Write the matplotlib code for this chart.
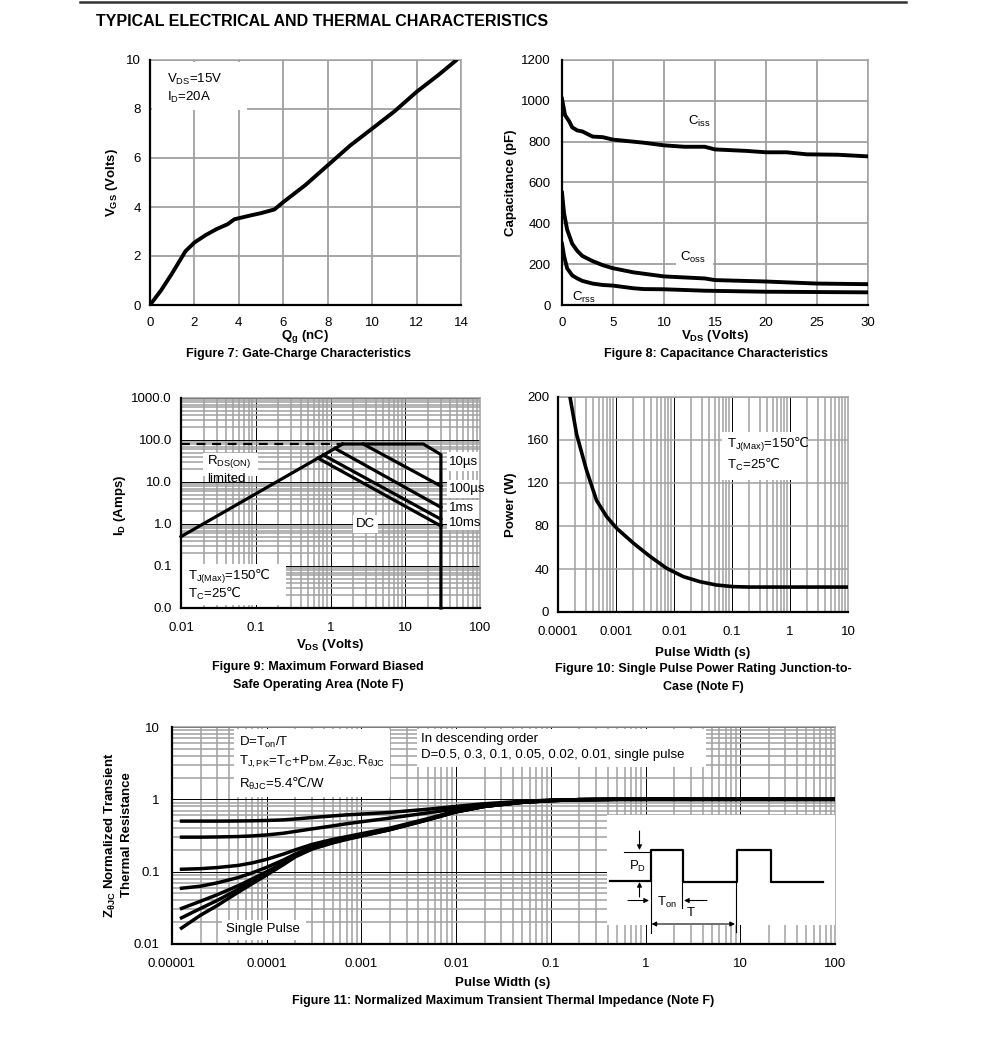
import numpy as np
import matplotlib
matplotlib.use('Agg')
import matplotlib.pyplot as plt
from matplotlib.ticker import FixedLocator, FixedFormatter, NullFormatter, LogLocator
from matplotlib.patches import Rectangle
from matplotlib.lines import Line2D

# ---------------- data ----------------
title_text = 'TYPICAL ELECTRICAL AND THERMAL CHARACTERISTICS'

# Figure 7: gate charge
qg_nc = [0, 0.5, 1.0, 1.6, 2.0, 2.5, 3.0, 3.5, 3.8, 4.5, 5.0, 5.6, 6.0, 7.0, 8.0, 9.0, 10.0, 11.0, 12.0, 13.0, 13.8]
vgs_v = [0, 0.6, 1.3, 2.2, 2.55, 2.85, 3.1, 3.3, 3.5, 3.65, 3.75, 3.9, 4.2, 4.9, 5.7, 6.5, 7.2, 7.9, 8.7, 9.4, 10.0]
fig7_xticks = [0, 2, 4, 6, 8, 10, 12, 14]
fig7_yticks = [0, 2, 4, 6, 8, 10]

# Figure 8: capacitance
ciss_v = [0, 0.3, 0.7, 1.0, 1.5, 2.0, 3.0, 4.0, 5.0, 7.0, 8.0, 10.0, 12.0, 14.0, 15.0, 18.0, 20.0, 22.0, 24.0, 27.0, 30.0]
ciss_pf = [1010, 930, 900, 870, 855, 850, 825, 822, 810, 800, 795, 782, 775, 775, 762, 755, 748, 748, 738, 736, 728]
coss_v = [0, 0.2, 0.5, 1.0, 1.5, 2.0, 3.0, 4.0, 5.0, 7.0, 10.0, 12.0, 14.0, 15.0, 20.0, 25.0, 30.0]
coss_pf = [550, 450, 370, 300, 265, 240, 215, 195, 180, 160, 140, 135, 130, 122, 115, 105, 102]
crss_v = [0, 0.2, 0.5, 1.0, 1.5, 2.0, 3.0, 4.0, 5.0, 7.0, 8.0, 10.0, 14.0, 20.0, 30.0]
crss_pf = [300, 240, 180, 145, 130, 118, 105, 98, 95, 82, 78, 77, 70, 65, 62]
fig8_xticks = [0, 5, 10, 15, 20, 25, 30]
fig8_yticks = [0, 200, 400, 600, 800, 1000, 1200]

# Figure 9: safe operating area
rds_v = [0.01, 1.45]
rds_i = [0.5, 80]
lim_v = [0.01, 1.45]
lim_i = [80, 80]
us10_v = [1.45, 17.5, 30, 30]
us10_i = [80, 80, 45, 0.01]
us100_v = [2.75, 30]
us100_i = [80, 8.0]
ms1_v = [1.15, 30]
ms1_i = [63, 2.5]
ms10_v = [0.8, 30]
ms10_i = [44, 1.3]
dc_v = [0.68, 30]
dc_i = [37, 0.9]
fig9_xticks = [0.01, 0.1, 1, 10, 100]
fig9_xlabels = ['0.01', '0.1', '1', '10', '100']
fig9_yticks = [0.01, 0.1, 1, 10, 100, 1000]
fig9_ylabels = ['0.0', '0.1', '1.0', '10.0', '100.0', '1000.0']

# Figure 10: single pulse power
pulse_s = [1.61e-4, 2.1e-4, 3.1e-4, 4.6e-4, 6.9e-4, 1.03e-3, 2e-3, 3.9e-3, 7.5e-3, 0.0145, 0.028, 0.054, 0.105, 0.2, 1, 10]
power_w = [200, 165, 132, 104, 88.7, 77.8, 64, 51.5, 40.6, 32.9, 28.2, 25.1, 23.6, 23.2, 23.2, 23.2]
fig10_xticks = [1e-4, 1e-3, 1e-2, 0.1, 1, 10]
fig10_xlabels = ['0.0001', '0.001', '0.01', '0.1', '1', '10']
fig10_yticks = [0, 40, 80, 120, 160, 200]

# Figure 11: transient thermal impedance
zth_t = [1.26e-5, 2e-5, 3e-5, 5e-5, 7e-5, 1e-4, 1.5e-4, 2e-4, 3e-4, 5e-4, 7e-4, 1e-3,
         2e-3, 5e-3, 1e-2, 2e-2, 5e-2, 0.1, 0.2, 0.5, 1, 100]
z_d05 = [0.50, 0.50, 0.50, 0.502, 0.505, 0.51, 0.52, 0.535, 0.56, 0.59, 0.61, 0.625,
         0.66, 0.73, 0.80, 0.87, 0.94, 0.975, 0.99, 1.0, 1.0, 1.0]
z_d03 = [0.30, 0.30, 0.302, 0.306, 0.312, 0.322, 0.34, 0.36, 0.39, 0.43, 0.46, 0.49,
         0.55, 0.65, 0.74, 0.83, 0.925, 0.97, 0.99, 1.0, 1.0, 1.0]
z_d01 = [0.108, 0.110, 0.114, 0.122, 0.132, 0.148, 0.175, 0.20, 0.238, 0.28, 0.305, 0.335,
         0.40, 0.54, 0.69, 0.81, 0.92, 0.965, 0.99, 1.0, 1.0, 1.0]
z_d005 = [0.059, 0.063, 0.070, 0.083, 0.096, 0.115, 0.145, 0.175, 0.22, 0.265, 0.295, 0.325,
          0.39, 0.53, 0.68, 0.80, 0.91, 0.96, 0.99, 1.0, 1.0, 1.0]
z_d002 = [0.031, 0.039, 0.048, 0.064, 0.079, 0.10, 0.133, 0.167, 0.212, 0.257, 0.287, 0.317,
          0.385, 0.525, 0.675, 0.80, 0.91, 0.96, 0.99, 1.0, 1.0, 1.0]
z_d001 = [0.023, 0.031, 0.040, 0.057, 0.073, 0.095, 0.128, 0.163, 0.208, 0.253, 0.283, 0.313,
          0.382, 0.522, 0.672, 0.80, 0.91, 0.96, 0.99, 1.0, 1.0, 1.0]
z_single = [0.0166, 0.025, 0.034, 0.052, 0.068, 0.09, 0.125, 0.16, 0.205, 0.25, 0.28, 0.31,
            0.38, 0.52, 0.67, 0.80, 0.91, 0.96, 0.99, 1.0, 1.0, 1.0]
fig11_xticks = [1e-5, 1e-4, 1e-3, 1e-2, 0.1, 1, 10, 100]
fig11_xlabels = ['0.00001', '0.0001', '0.001', '0.01', '0.1', '1', '10', '100']
fig11_yticks = [0.01, 0.1, 1, 10]
fig11_ylabels = ['0.01', '0.1', '1', '10']

# ---------------- style ----------------
plt.rcParams['font.family'] = ['Liberation Sans', 'DejaVu Sans']
plt.rcParams['mathtext.fontset'] = 'custom'
plt.rcParams['mathtext.rm'] = 'Liberation Sans'
plt.rcParams['mathtext.it'] = 'Liberation Sans:italic'
plt.rcParams['mathtext.bf'] = 'Liberation Sans:bold'
plt.rcParams['mathtext.sf'] = 'DejaVu Sans'
plt.rcParams['mathtext.fallback'] = 'stixsans'
plt.rcParams['mathtext.default'] = 'rm'

GRID = '#a0a0a0'
TICK_FS = 9.5
LAB_FS = 9.5
CAP_FS = 9.0
DEG = r'$\mathsf{℃}$'

W, H = 991, 1052
fig = plt.figure(figsize=(W / 100, H / 100), dpi=100)


def fx(px):
    return px / W


def fy(py):
    return 1 - py / H


def ax_px(l, t, r, b):
    return fig.add_axes([l / W, 1 - b / H, (r - l) / W, (b - t) / H])


def style_axes(ax, xpad=9, ypad=6.5):
    ax.set_axisbelow(True)
    for s in ['left', 'bottom']:
        ax.spines[s].set_color('black')
        ax.spines[s].set_linewidth(1.6)
        ax.spines[s].set_zorder(4)
    for s in ['top', 'right']:
        ax.spines[s].set_color(GRID)
        ax.spines[s].set_linewidth(1.1)
    ax.tick_params(which='both', length=0, labelsize=TICK_FS, colors='black')
    ax.tick_params(axis='x', pad=xpad)
    ax.tick_params(axis='y', pad=ypad)


def white_box(ax, l, t, r, b):
    ax.add_patch(Rectangle((l / W, 1 - b / H), (r - l) / W, (b - t) / H, transform=fig.transFigure,
                           facecolor='white', edgecolor='none', zorder=1.5, clip_on=False))


def ptext(ax, px, py, s, **kw):
    ax.text(fx(px), fy(py), s, transform=fig.transFigure, fontsize=kw.pop('fontsize', 9.5),
            va=kw.pop('va', 'center'), ha=kw.pop('ha', 'left'), zorder=5, **kw)


def log_grid(ax, xaxis=True, yaxis=True):
    if xaxis:
        ax.xaxis.set_minor_locator(LogLocator(base=10, subs=np.arange(2, 10), numticks=30))
        ax.xaxis.set_minor_formatter(NullFormatter())
    if yaxis:
        ax.yaxis.set_minor_locator(LogLocator(base=10, subs=np.arange(2, 10), numticks=30))
        ax.yaxis.set_minor_formatter(NullFormatter())
    ax.grid(True, which='minor', color=GRID, lw=1.1)
    ax.grid(True, which='major', color='black', lw=0.7)


# top rule and title
fig.add_artist(Line2D([fx(80), fx(906)], [fy(1.5), fy(1.5)], color='#333333', lw=1.8))
fig.text(fx(96), fy(22), title_text, fontsize=11.5, fontweight='bold', va='center', ha='left')

# ---------------- Figure 7 ----------------
ax7 = ax_px(150, 60, 461, 305)
style_axes(ax7)
ax7.plot(qg_nc, vgs_v, color='black', lw=2.8, zorder=3, solid_capstyle='round')
ax7.set_xlim(0, 14)
ax7.set_ylim(0, 10)
ax7.set_xticks(fig7_xticks)
ax7.set_yticks(fig7_yticks)
ax7.grid(True, color=GRID, lw=1.3)
white_box(ax7, 152, 62, 247, 110)
ptext(ax7, 167, 79, r'V$_{\mathrm{DS}}$=15V')
ptext(ax7, 167, 97, r'I$_{\mathrm{D}}$=20A')
fig.text(fx(112), fy(183), r'V$_{\mathbf{GS}}$ (Volts)', rotation=90, fontsize=LAB_FS, fontweight='bold',
         ha='center', va='center')
fig.text(fx(305), fy(336), r'Q$_{\mathbf{g}}$ (nC)', fontsize=LAB_FS, fontweight='bold', ha='center', va='center')
fig.text(fx(298), fy(354), 'Figure 7: Gate-Charge Characteristics', fontsize=CAP_FS, fontweight='bold',
         ha='center', va='center')

# ---------------- Figure 8 ----------------
ax8 = ax_px(562, 60, 868, 305)
style_axes(ax8, ypad=8)
ax8.plot(ciss_v, ciss_pf, color='black', lw=2.8, zorder=3)
ax8.plot(coss_v, coss_pf, color='black', lw=2.8, zorder=3)
ax8.plot(crss_v, crss_pf, color='black', lw=2.8, zorder=3)
ax8.set_xlim(0, 30)
ax8.set_ylim(0, 1200)
ax8.set_xticks(fig8_xticks)
ax8.set_yticks(fig8_yticks)
ax8.grid(True, color=GRID, lw=1.3)
white_box(ax8, 685, 111, 713, 132)
white_box(ax8, 676, 249, 713, 266)
white_box(ax8, 569, 292, 603, 304)
ptext(ax8, 688, 121, r'C$_{\mathrm{iss}}$')
ptext(ax8, 680, 257, r'C$_{\mathrm{oss}}$')
ptext(ax8, 572, 297, r'C$_{\mathrm{rss}}$')
fig.text(fx(511), fy(183), 'Capacitance (pF)', rotation=90, fontsize=LAB_FS, fontweight='bold',
         ha='center', va='center')
fig.text(fx(715), fy(336), r'V$_{\mathbf{DS}}$ (Volts)', fontsize=LAB_FS, fontweight='bold', ha='center', va='center')
fig.text(fx(716), fy(354), 'Figure 8: Capacitance Characteristics', fontsize=CAP_FS, fontweight='bold',
         ha='center', va='center')

# ---------------- Figure 9 ----------------
ax9 = ax_px(181, 398, 480, 608)
style_axes(ax9, xpad=10, ypad=6.5)
ax9.set_xscale('log')
ax9.set_yscale('log')
ax9.set_xlim(0.01, 100)
ax9.set_ylim(0.01, 1000)
log_grid(ax9)
ax9.xaxis.set_major_locator(FixedLocator(fig9_xticks))
ax9.xaxis.set_major_formatter(FixedFormatter(fig9_xlabels))
ax9.yaxis.set_major_locator(FixedLocator(fig9_yticks))
ax9.yaxis.set_major_formatter(FixedFormatter(fig9_ylabels))
ax9.plot(lim_v, lim_i, color='black', lw=1.6, ls=(0, (4, 3)), zorder=3)
for xs, ys in [(rds_v, rds_i), (us10_v, us10_i), (us100_v, us100_i), (ms1_v, ms1_i),
               (ms10_v, ms10_i), (dc_v, dc_i)]:
    ax9.plot(xs, ys, color='black', lw=2.3, zorder=3, clip_on=False)
white_box(ax9, 203, 453, 258, 476)
white_box(ax9, 447, 452, 482, 471)
white_box(ax9, 447, 480, 486, 498)
white_box(ax9, 447, 500, 480, 516)
white_box(ax9, 447, 516, 484, 530)
white_box(ax9, 353, 515, 378, 533)
white_box(ax9, 182, 564, 286, 605)
ptext(ax9, 207, 462, r'R$_{\mathrm{DS(ON)}}$')
ptext(ax9, 207, 479, 'limited')
ptext(ax9, 449, 462, '10µs')
ptext(ax9, 449, 489, '100µs')
ptext(ax9, 449, 508, '1ms')
ptext(ax9, 449, 523, '10ms')
ptext(ax9, 356, 524, 'DC')
ptext(ax9, 188, 577, r'T$_{\mathrm{J(Max)}}$=150' + DEG)
ptext(ax9, 188, 594, r'T$_{\mathrm{C}}$=25' + DEG)
fig.text(fx(120), fy(505), r'I$_{\mathbf{D}}$ (Amps)', rotation=90, fontsize=LAB_FS, fontweight='bold',
         ha='center', va='center')
fig.text(fx(330), fy(645), r'V$_{\mathbf{DS}}$ (Volts)', fontsize=LAB_FS, fontweight='bold', ha='center', va='center')
fig.text(fx(318), fy(667), 'Figure 9: Maximum Forward Biased', fontsize=CAP_FS, fontweight='bold',
         ha='center', va='center')
fig.text(fx(318), fy(685), 'Safe Operating Area (Note F)', fontsize=CAP_FS, fontweight='bold',
         ha='center', va='center')

# ---------------- Figure 10 ----------------
ax10 = ax_px(558, 397, 848, 612)
style_axes(ax10, xpad=10, ypad=6.5)
ax10.set_xscale('log')
ax10.set_xlim(1e-4, 10)
ax10.set_ylim(0, 200)
log_grid(ax10, yaxis=False)
ax10.yaxis.grid(True, which='major', color=GRID, lw=1.1)
ax10.xaxis.set_major_locator(FixedLocator(fig10_xticks))
ax10.xaxis.set_major_formatter(FixedFormatter(fig10_xlabels))
ax10.set_yticks(fig10_yticks)
ax10.plot(pulse_s, power_w, color='black', lw=2.6, zorder=3)
white_box(ax10, 722, 432, 806, 480)
ptext(ax10, 727, 445, r'T$_{\mathrm{J(Max)}}$=150' + DEG)
ptext(ax10, 727, 465, r'T$_{\mathrm{C}}$=25' + DEG)
fig.text(fx(511), fy(505), 'Power (W)', rotation=90, fontsize=LAB_FS, fontweight='bold',
         ha='center', va='center')
fig.text(fx(703), fy(653), 'Pulse Width (s)', fontsize=LAB_FS, fontweight='bold', ha='center', va='center')
fig.text(fx(703), fy(669), 'Figure 10: Single Pulse Power Rating Junction-to-', fontsize=CAP_FS,
         fontweight='bold', ha='center', va='center')
fig.text(fx(703), fy(687), 'Case (Note F)', fontsize=CAP_FS, fontweight='bold', ha='center', va='center')

# ---------------- Figure 11 ----------------
ax11 = ax_px(172, 727, 835, 944)
style_axes(ax11, xpad=10, ypad=9)
ax11.set_xscale('log')
ax11.set_yscale('log')
ax11.set_xlim(1e-5, 100)
ax11.set_ylim(0.01, 10)
log_grid(ax11)
ax11.xaxis.set_major_locator(FixedLocator(fig11_xticks))
ax11.xaxis.set_major_formatter(FixedFormatter(fig11_xlabels))
ax11.yaxis.set_major_locator(FixedLocator(fig11_yticks))
ax11.yaxis.set_major_formatter(FixedFormatter(fig11_ylabels))
for zs in [z_d05, z_d03, z_d01, z_d005, z_d002, z_d001, z_single]:
    ax11.plot(zth_t, zs, color='black', lw=2.5, zorder=3)
white_box(ax11, 234, 729, 390, 797)
white_box(ax11, 417, 729, 706, 767)
white_box(ax11, 222, 920, 306, 940)
ptext(ax11, 239, 742, r'D=T$_{\mathrm{on}}$/T')
ptext(ax11, 239, 762, r'T$_{\mathrm{J,PK}}$=T$_{\mathrm{C}}$+P$_{\mathrm{DM}}$$_{\mathrm{.}}$Z$_{\mathrm{θJC}}$$_{\mathrm{.}}$R$_{\mathrm{θJC}}$')
ptext(ax11, 239, 784, r'R$_{\mathrm{θJC}}$=5.4' + DEG + '/W')
ptext(ax11, 421, 739, 'In descending order')
ptext(ax11, 421, 755, 'D=0.5, 0.3, 0.1, 0.05, 0.02, 0.01, single pulse')
ptext(ax11, 226, 929, 'Single Pulse')
fig.text(fx(110), fy(835), r'Z$_{\mathbf{θJC}}$ Normalized Transient', rotation=90, fontsize=LAB_FS,
         fontweight='bold', ha='center', va='center')
fig.text(fx(127), fy(835), 'Thermal Resistance', rotation=90, fontsize=LAB_FS,
         fontweight='bold', ha='center', va='center')
fig.text(fx(503), fy(983), 'Pulse Width (s)', fontsize=LAB_FS, fontweight='bold', ha='center', va='center')
fig.text(fx(503), fy(1001), 'Figure 11: Normalized Maximum Transient Thermal Impedance (Note F)',
         fontsize=CAP_FS, fontweight='bold', ha='center', va='center')

# inset: pulse diagram (drawn in pixel coordinates of the figure)
axi = ax_px(607, 815, 835, 925)
axi.set_xlim(607, 835)
axi.set_ylim(925, 815)
axi.set_facecolor('white')
for s in axi.spines.values():
    s.set_visible(False)
axi.set_xticks([])
axi.set_yticks([])
axi.plot([610, 650.5, 650.5, 683, 683, 737, 737, 770.5, 770.5, 823],
         [880.5, 880.5, 850, 850, 881.5, 881.5, 850, 850, 881.5, 881.5], color='black', lw=1.6)
thin = dict(color='black', lw=0.8, clip_on=False)
axi.plot([624, 650], [851.5, 851.5], **thin)
axi.plot([650.5, 650.5], [881, 933], **thin)
axi.plot([681.7, 681.7], [883, 908], **thin)
axi.plot([736, 736], [883, 932], **thin)
arr = dict(arrowstyle='-|>', lw=0.8, color='black', mutation_scale=7, shrinkA=0, shrinkB=0)
axi.annotate('', xy=(639.5, 850), xytext=(639.5, 831), arrowprops=arr)
axi.annotate('', xy=(639.5, 882), xytext=(639.5, 897), arrowprops=arr)
axi.annotate('', xy=(649, 900.5), xytext=(628, 900.5), arrowprops=arr)
axi.annotate('', xy=(684, 900.5), xytext=(707, 900.5), arrowprops=arr)
axi.annotate('', xy=(735, 924), xytext=(651.5, 924),
             arrowprops=dict(arrowstyle='<|-|>', lw=0.8, color='black', mutation_scale=7, shrinkA=0, shrinkB=0),
             annotation_clip=False)
axi.text(638, 866.5, r'P$_{\mathrm{D}}$', fontsize=9.5, ha='center', va='center')
axi.text(666.5, 902, r'T$_{\mathrm{on}}$', fontsize=9.5, ha='center', va='center')
axi.text(690.5, 913, 'T', fontsize=9.5, ha='center', va='center')

fig.savefig('out.png', dpi=100, facecolor='white')
